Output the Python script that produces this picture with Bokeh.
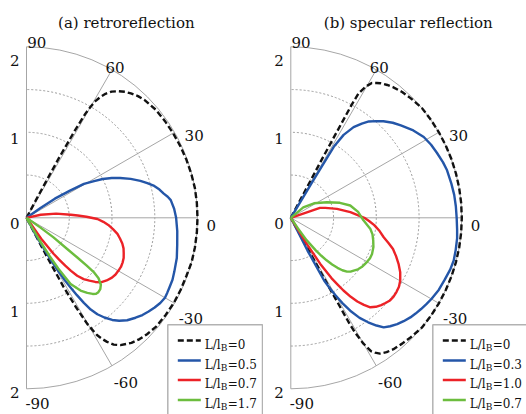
import numpy as np
from bokeh.plotting import figure
from bokeh.layouts import row
from bokeh.models import Range1d, Label, BoxAnnotation
from bokeh.embed import file_html
from bokeh.resources import INLINE

# ---------------- data ----------------
angle_ticks = [90, 60, 30, 0, -30, -60, -90]
angle_labels = ["90", "60", "30", "0", "-30", "-60", "-90"]
radial_pos = [2, 1, 0, -1, -2]
radial_labels = ["2", "1", "0", "1", "2"]
grid_r = [0.5, 1.0, 1.5]
r_max = 2.0
spokes = [60, 30, 0, -30, -60]

titles = ["(a) retroreflection", "(b) specular reflection"]
retro_legend = ["0", "0.5", "0.7", "1.7"]
spec_legend = ["0", "0.3", "1.0", "0.7"]

# (a) retroreflection, angle (deg) / radius
retro_0_theta = [62, 61.8, 61.5, 61, 60.5, 60.0, 59.5, 58.5, 57.5, 56, 54, 52, 50, 47.5, 45,
                 40, 35, 30, 25, 20, 15, 10, 5, 0, -5, -10, -15, -20, -25, -30, -35, -40, -44,
                 -47, -50, -53.6, -55.5, -57, -58, -59, -60.2, -61, -61.8, -62.3, -62.5]
retro_0_r = [0, 0.4, 0.8, 1.17, 1.4, 1.5, 1.58, 1.66, 1.72, 1.78, 1.83, 1.87, 1.9, 1.93, 1.95,
             1.97, 1.975, 1.98, 1.985, 1.99, 1.995, 2.0, 2.0, 2.0, 2.0, 2.0, 2.0, 1.99, 1.99,
             1.99, 1.985, 1.98, 1.96, 1.94, 1.91, 1.85, 1.80, 1.73, 1.67, 1.6, 1.43, 1.2, 0.92,
             0.5, 0]

retro_05_theta = [36, 35, 34, 32, 30.5, 28.5, 27, 25, 23, 20.5, 18, 16, 14, 12, 10, 8.5, 7,
                  3.5, 0, -5, -10, -15, -20, -23, -26, -28, -30, -32.5, -35, -37.5, -40, -42.5,
                  -45.5, -48, -50, -52, -53.7, -55, -56, -56.9, -57.7, -58.4, -59, -59.7,
                  -60.3, -61.5, -62.5]
retro_05_r = [0, 0.2, 0.4, 0.6, 0.78, 0.9, 1.0, 1.1, 1.19, 1.3, 1.4, 1.47, 1.54, 1.59, 1.63,
              1.67, 1.7, 1.73, 1.75, 1.77, 1.79, 1.82, 1.84, 1.855, 1.86, 1.865, 1.87, 1.855,
              1.83, 1.80, 1.77, 1.73, 1.68, 1.62, 1.56, 1.48, 1.40, 1.31, 1.2, 1.08, 0.96, 0.86,
              0.75, 0.62, 0.49, 0.25, 0]

retro_07_theta = [15, 12, 8, 4, 2.5, 1, -1, -3, -5, -7.5, -10, -12.5, -15, -17.5, -20, -22.5,
                  -25, -27.5, -30, -32.5, -35, -38, -41, -43, -45, -47, -48.8, -50, -51, -52,
                  -53, -55, -57]
retro_07_r = [0, 0.17, 0.35, 0.52, 0.6, 0.7, 0.83, 0.9, 0.96, 1.02, 1.08, 1.12, 1.16, 1.19,
              1.21, 1.23, 1.24, 1.245, 1.24, 1.235, 1.22, 1.19, 1.15, 1.10, 1.04, 0.98, 0.90,
              0.81, 0.72, 0.62, 0.53, 0.3, 0]

retro_17_theta = [-33, -35, -36, -37.5, -38, -38.5, -39, -40, -42, -44, -46, -47.5, -49, -51,
                  -53.4, -56.3, -58, -58.8, -60, -61]
retro_17_r = [0, 0.2, 0.39, 0.6, 0.75, 0.9, 1.02, 1.1, 1.17, 1.2, 1.21, 1.205, 1.18, 1.13,
              1.06, 0.93, 0.7, 0.54, 0.3, 0]

# (b) specular reflection
spec_0_theta = [62.5, 62, 61.7, 61.4, 60.2, 59, 57.5, 56.4, 54, 52, 48.5, 45, 40, 35, 30, 25,
                20, 15, 10, 5, 0, -5, -10, -15, -20, -25, -30, -35, -40, -45, -48.5, -52,
                -54.5, -56.7, -58, -59, -60, -60.7, -61, -61.2, -61.5]
spec_0_r = [0, 0.8, 1.5, 1.66, 1.77, 1.84, 1.87, 1.89, 1.92, 1.94, 1.965, 1.98, 2.0, 2.0, 2.0,
            2.0, 2.0, 2.0, 2.0, 2.0, 2.0, 2.0, 2.0, 2.0, 2.0, 2.0, 2.0, 2.0, 2.0, 1.98, 1.965,
            1.95, 1.93, 1.90, 1.86, 1.82, 1.70, 1.55, 1.42, 0.79, 0]

spec_03_theta = [59.5, 59, 58.8, 57.5, 55.3, 53, 51, 48.5, 46.2, 43, 40, 35.5, 31.3, 27.5, 24,
                 20, 16.9, 12, 8, 4, 0, -4, -7, -11, -14.7, -18, -22, -26, -29.9, -32.5, -35,
                 -37.5, -39.8, -42.5, -45, -47.5, -49.7, -51.5, -53.5, -55.5, -57.4, -58.8,
                 -60, -61, -62, -63, -63.5]
spec_03_r = [0, 0.5, 0.97, 1.15, 1.29, 1.38, 1.45, 1.51, 1.565, 1.63, 1.68, 1.76, 1.82, 1.85,
             1.87, 1.895, 1.91, 1.92, 1.93, 1.935, 1.94, 1.95, 1.96, 1.965, 1.97, 1.96, 1.94,
             1.925, 1.90, 1.88, 1.86, 1.84, 1.82, 1.79, 1.76, 1.72, 1.68, 1.61, 1.52, 1.42,
             1.29, 1.17, 1.05, 0.95, 0.83, 0.43, 0]

spec_10_theta = [22, 18.8, 16, 11, 5.4, 0, -2.5, -5, -8.5, -11.8, -14.5, -17, -20, -23.1,
                 -26.5, -29.8, -32.5, -35, -37.5, -39.8, -42, -44, -46.3, -48.4, -50, -51.5,
                 -52.8, -54.1, -55, -56, -57.4, -58.5, -59.5]
spec_10_r = [0, 0.36, 0.42, 0.55, 0.70, 0.86, 0.92, 0.98, 1.05, 1.11, 1.18, 1.25, 1.31, 1.37,
             1.43, 1.475, 1.50, 1.51, 1.515, 1.51, 1.49, 1.47, 1.44, 1.40, 1.33, 1.25, 1.16,
             1.05, 0.95, 0.85, 0.64, 0.35, 0]

spec_07_theta = [45, 39.8, 32, 23.4, 17, 11.7, 5, -2, -8, -11.5, -15.4, -19.5, -24, -27, -30,
                 -32.5, -34.8, -37.5, -40, -42, -43.8, -45.5, -47, -48.5, -49.9, -51.2, -52.5,
                 -54.8, -56, -57]
spec_07_r = [0, 0.19, 0.32, 0.46, 0.6, 0.71, 0.79, 0.85, 0.94, 0.975, 1.00, 1.025, 1.04, 1.04,
             1.03, 1.02, 1.01, 0.99, 0.96, 0.94, 0.91, 0.86, 0.8, 0.73, 0.65, 0.57, 0.48, 0.32,
             0.15, 0]

# ---------------- styles ----------------
FONT = "DejaVu Serif"
COLORS = ["#111111", "#2456a8", "#ec2227", "#6cbd3e"]
DASHES = ["6 3", "solid", "solid", "solid"]
GRAY = "#a6a6a6"
DOT = "#9a9a9a"
S = 85.5          # pixels per radial unit
W, H = 263, 414

# label offsets (screen px) relative to r=2 end of each angle line
ang_off = {90: (0.7, 4.6), 60: (-6.5, 2.5), 30: (10, -3.2), 0: (9, -7.7),
           -30: (4.2, -14.7), -60: (1.8, -16.6), -90: (-1, -14.8)}
rad_off = {2: -13.7, 1: -6.5, 0: -5.2, -1: -7.9, -2: -3.4}


def make_panel(ox, oy, page_left, title, title_cx, series, legend_vals, lg_left, lg_right):
    x0 = (page_left - ox) / S
    ytop = oy / S
    p = figure(width=W, height=H, x_range=Range1d(x0, x0 + W / S),
               y_range=Range1d(ytop - H / S, ytop), output_backend="svg",
               toolbar_location=None, x_axis_location=None, y_axis_location=None,
               min_border=0, outline_line_color=None)
    p.grid.grid_line_color = None
    px = lambda X: (X - ox) / S
    py = lambda Y: (oy - Y) / S

    # grid
    for r in grid_r:
        p.arc(x=0, y=0, radius=r, start_angle=-np.pi / 2, end_angle=np.pi / 2,
              line_color=DOT, line_width=1, line_dash="2 2")
    p.arc(x=0, y=0, radius=r_max, start_angle=-np.pi / 2, end_angle=np.pi / 2,
          line_color=GRAY, line_width=1)
    a = np.radians(spokes)
    p.segment(x0=[0] * len(a), y0=[0] * len(a), x1=r_max * np.cos(a), y1=r_max * np.sin(a),
              line_color=GRAY, line_width=1)
    p.segment(x0=[0], y0=[-r_max], x1=[0], y1=[r_max], line_color=GRAY, line_width=1)

    # curves
    for (th, rr), c, d in zip(series, COLORS, DASHES):
        t = np.radians(th)
        rr = np.array(rr)
        p.line(rr * np.cos(t), rr * np.sin(t), line_color=c, line_width=2.4, line_dash=d,
               line_join="round")

    # angle labels
    for ang, lab in zip(angle_ticks, angle_labels):
        t = np.radians(ang)
        dx, dy = ang_off[ang]
        p.add_layout(Label(x=r_max * np.cos(t), y=r_max * np.sin(t), text=lab,
                           x_offset=dx, y_offset=dy, text_font=FONT, text_font_size="15px",
                           text_align="left", text_baseline="alphabetic", text_color="#111111"))
    # radial labels
    for rp, lab in zip(radial_pos, radial_labels):
        p.add_layout(Label(x=0, y=rp, text=lab, x_offset=-7, y_offset=rad_off[rp],
                           text_font=FONT, text_font_size="15px", text_align="right",
                           text_baseline="alphabetic", text_color="#111111"))
    # title
    p.add_layout(Label(x=px(title_cx), y=py(22.5), text=title, text_font=FONT,
                       text_font_size="15px", text_align="center",
                       text_baseline="alphabetic", text_color="#111111"))

    # legend
    p.add_layout(BoxAnnotation(left=px(lg_left), right=px(lg_right), top=py(324.3),
                               bottom=py(430), fill_color="white", fill_alpha=1.0,
                               line_color="black", line_width=1.5, level="underlay"))
    rows_y = [340, 360, 379.5, 399.5]
    for yy, c, d, val in zip(rows_y, COLORS, DASHES, legend_vals):
        p.line([px(lg_left + 10), px(lg_left + 33)], [py(yy), py(yy)], line_color=c,
               line_width=2.4, line_dash=d)
        tx = lg_left + 37
        p.add_layout(Label(x=px(tx), y=py(yy + 4), text="L/l", text_font=FONT,
                           text_font_size="12px", text_baseline="alphabetic",
                           text_color="#111111"))
        p.add_layout(Label(x=px(tx + 16), y=py(yy + 7), text="B", text_font=FONT,
                           text_font_size="9px", text_baseline="alphabetic",
                           text_color="#111111"))
        p.add_layout(Label(x=px(tx + 23), y=py(yy + 4), text="=" + val, text_font=FONT,
                           text_font_size="12px", text_baseline="alphabetic",
                           text_color="#111111"))
    return p


retro_series = [(retro_0_theta, retro_0_r), (retro_05_theta, retro_05_r),
                (retro_07_theta, retro_07_r), (retro_17_theta, retro_17_r)]
spec_series = [(spec_0_theta, spec_0_r), (spec_03_theta, spec_03_r),
               (spec_10_theta, spec_10_r), (spec_07_theta, spec_07_r)]

p1 = make_panel(26, 217.3, 0, titles[0], 125.8, retro_series, retro_legend, 167.3, 262)
p2 = make_panel(290.3, 217.3, 263, titles[1], 407.7, spec_series, spec_legend, 432.3, 540)

layout = row(p1, p2, spacing=0)
open("out.html", "w").write(file_html(layout, INLINE))
